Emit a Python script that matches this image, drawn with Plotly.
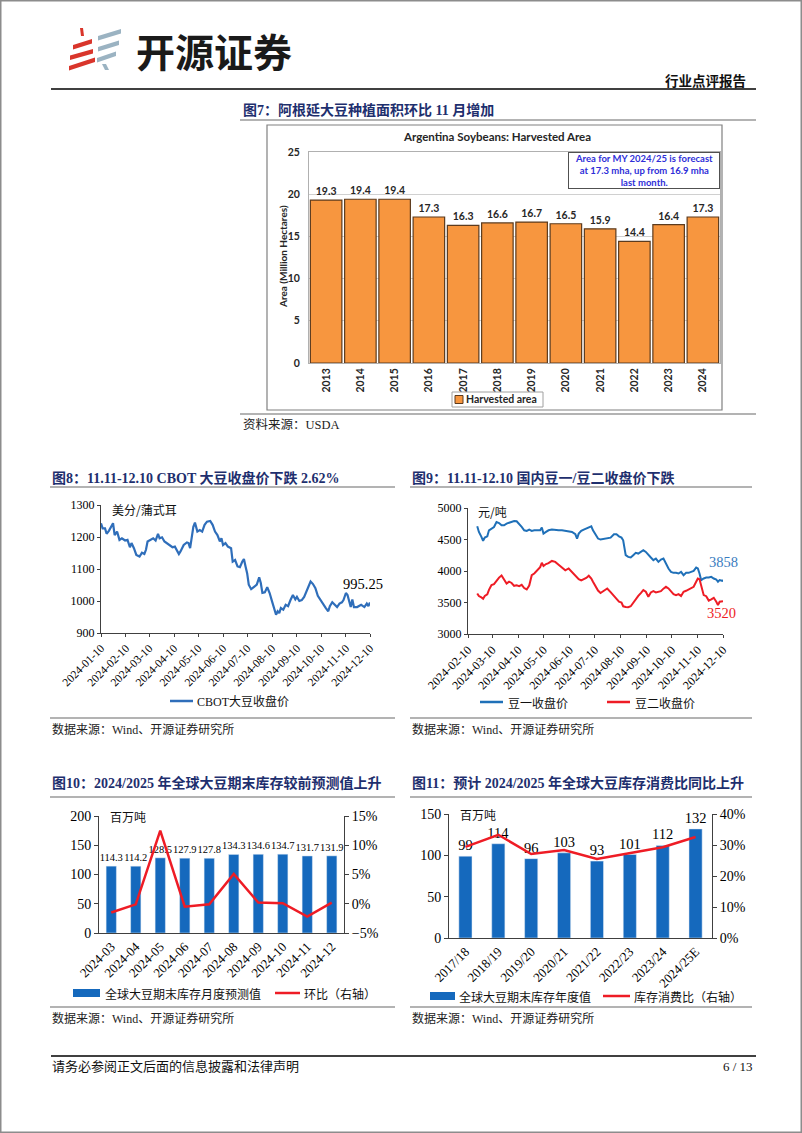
import plotly.graph_objects as go

# ---------------- data ----------------
years7 = ["2013", "2014", "2015", "2016", "2017", "2018", "2019", "2020", "2021", "2022", "2023", "2024"]
area7 = [19.3, 19.4, 19.4, 17.3, 16.3, 16.6, 16.7, 16.5, 15.9, 14.4, 16.4, 17.3]

dates8 = [
    "2024-01-10", "2024-01-12", "2024-01-15", "2024-01-17", "2024-01-20", "2024-01-23", "2024-01-25", "2024-01-27", "2024-01-30", "2024-02-02",
    "2024-02-05", "2024-02-09", "2024-02-12", "2024-02-15", "2024-02-17", "2024-02-20", "2024-02-23", "2024-02-27", "2024-03-01", "2024-03-04",
    "2024-03-06", "2024-03-08", "2024-03-12", "2024-03-15", "2024-03-18", "2024-03-21", "2024-03-23", "2024-03-26", "2024-03-29", "2024-04-01",
    "2024-04-05", "2024-04-08", "2024-04-11", "2024-04-13", "2024-04-16", "2024-04-18", "2024-04-22", "2024-04-26", "2024-04-28", "2024-04-30",
    "2024-05-02", "2024-05-04", "2024-05-06", "2024-05-09", "2024-05-12", "2024-05-15", "2024-05-18", "2024-05-21", "2024-05-25", "2024-05-28",
    "2024-05-31", "2024-06-03", "2024-06-06", "2024-06-08", "2024-06-10", "2024-06-13", "2024-06-16", "2024-06-20", "2024-06-22", "2024-06-25",
    "2024-06-28", "2024-07-01", "2024-07-04", "2024-07-06", "2024-07-08", "2024-07-10", "2024-07-12", "2024-07-15", "2024-07-19", "2024-07-22",
    "2024-07-25", "2024-07-27", "2024-07-29", "2024-08-01", "2024-08-04", "2024-08-07", "2024-08-10", "2024-08-13", "2024-08-15", "2024-08-17",
    "2024-08-19", "2024-08-21", "2024-08-24", "2024-08-27", "2024-08-30", "2024-09-02", "2024-09-05", "2024-09-08", "2024-09-10", "2024-09-13",
    "2024-09-16", "2024-09-19", "2024-09-22", "2024-09-24", "2024-09-27", "2024-09-30", "2024-10-03", "2024-10-06", "2024-10-10", "2024-10-13",
    "2024-10-16", "2024-10-19", "2024-10-21", "2024-10-24", "2024-10-27", "2024-10-30", "2024-11-02", "2024-11-05", "2024-11-07", "2024-11-10",
    "2024-11-12", "2024-11-14", "2024-11-16", "2024-11-18", "2024-11-20", "2024-11-24", "2024-11-27", "2024-11-29", "2024-12-03", "2024-12-06",
    "2024-12-08", "2024-12-10",
]
cbot8 = [
    1243, 1227, 1227, 1210, 1220, 1232, 1243, 1206, 1217, 1191,
    1196, 1189, 1191, 1168, 1181, 1165, 1144, 1139, 1151, 1147,
    1160, 1186, 1193, 1196, 1189, 1210, 1196, 1199, 1186, 1181,
    1175, 1168, 1170, 1160, 1147, 1155, 1175, 1183, 1181, 1165,
    1193, 1232, 1245, 1217, 1222, 1217, 1238, 1248, 1250, 1238,
    1217, 1206, 1186, 1196, 1175, 1181, 1170, 1165, 1123, 1128,
    1108, 1106, 1123, 1131, 1108, 1087, 1051, 1037, 1045, 1051,
    1074, 1056, 1025, 1027, 1043, 1025, 999, 978, 957, 968,
    962, 978, 973, 988, 984, 1003, 1019, 1005, 1013, 1000,
    1003, 1013, 1029, 1045, 1061, 1053, 1040, 1016, 999, 988,
    978, 968, 984, 996, 988, 981, 992, 996, 1003, 1025,
    1019, 1003, 981, 1005, 981, 981, 984, 988, 981, 992,
    984, 995.25,
]
ticks8 = ["2024-01-10", "2024-02-10", "2024-03-10", "2024-04-10", "2024-05-10", "2024-06-10",
          "2024-07-10", "2024-08-10", "2024-09-10", "2024-10-10", "2024-11-10", "2024-12-10"]

dates9 = [
    "2024-02-21", "2024-02-23", "2024-02-26", "2024-02-28", "2024-03-01", "2024-03-04", "2024-03-06", "2024-03-09", "2024-03-12", "2024-03-15",
    "2024-03-18", "2024-03-21", "2024-03-24", "2024-03-27", "2024-03-30", "2024-04-02", "2024-04-05", "2024-04-08", "2024-04-11", "2024-04-14",
    "2024-04-17", "2024-04-20", "2024-04-23", "2024-04-26", "2024-04-29", "2024-05-02", "2024-05-06", "2024-05-08", "2024-05-10", "2024-05-13",
    "2024-05-16", "2024-05-20", "2024-05-24", "2024-05-28", "2024-06-01", "2024-06-05", "2024-06-09", "2024-06-13", "2024-06-17", "2024-06-19",
    "2024-06-21", "2024-06-24", "2024-06-27", "2024-06-30", "2024-07-03", "2024-07-06", "2024-07-08", "2024-07-11", "2024-07-14", "2024-07-17",
    "2024-07-21", "2024-07-25", "2024-07-29", "2024-08-02", "2024-08-05", "2024-08-08", "2024-08-11", "2024-08-13", "2024-08-16", "2024-08-19",
    "2024-08-22", "2024-08-25", "2024-08-28", "2024-08-31", "2024-09-03", "2024-09-06", "2024-09-09", "2024-09-12", "2024-09-15", "2024-09-18",
    "2024-09-21", "2024-09-24", "2024-09-27", "2024-09-30", "2024-10-03", "2024-10-06", "2024-10-09", "2024-10-12", "2024-10-15", "2024-10-18",
    "2024-10-21", "2024-10-24", "2024-10-27", "2024-10-30", "2024-11-02", "2024-11-05", "2024-11-08", "2024-11-10", "2024-11-12", "2024-11-14",
    "2024-11-17", "2024-11-20", "2024-11-23", "2024-11-26", "2024-11-29", "2024-12-02", "2024-12-04", "2024-12-06", "2024-12-09", "2024-12-10",
]
soy1 = [
    4710, 4620, 4541, 4478, 4530, 4551, 4646, 4673, 4699, 4778,
    4762, 4726, 4726, 4752, 4768, 4778, 4794, 4789, 4752, 4699,
    4646, 4636, 4657, 4636, 4646, 4646, 4646, 4689, 4594, 4620,
    4646, 4657, 4646, 4646, 4646, 4636, 4630, 4620, 4583, 4515,
    4594, 4636, 4657, 4673, 4699, 4710, 4646, 4583, 4515, 4499,
    4510, 4525, 4530, 4583, 4583, 4551, 4530, 4488, 4251, 4224,
    4214, 4251, 4288, 4277, 4303, 4330, 4303, 4266, 4214, 4172,
    4198, 4145, 4182, 4198, 4108, 4040, 3987, 3971, 3971, 3960,
    3987, 3934, 3971, 3971, 3987, 4003, 4055, 4040, 3960, 3855,
    3881, 3897, 3897, 3908, 3881, 3865, 3829, 3855, 3844, 3858,
]
soy2 = [
    3644, 3602, 3580, 3560, 3605, 3630, 3700, 3776, 3790, 3850,
    3895, 3930, 3870, 3800, 3830, 3810, 3765, 3772, 3760, 3780,
    3730, 3707, 3770, 3934, 3960, 3997, 4060, 4130, 4080, 4110,
    4125, 4160, 4145, 4100, 4055, 4010, 4040, 3980, 3934, 3900,
    3870, 3850, 3870, 3890, 3925, 3880, 3830, 3750, 3690, 3650,
    3690, 3723, 3665, 3600, 3560, 3512, 3500, 3440, 3430, 3425,
    3440, 3500, 3550, 3605, 3650, 3697, 3670, 3591, 3660, 3680,
    3660, 3670, 3680, 3720, 3749, 3723, 3670, 3633, 3617, 3633,
    3602, 3670, 3686, 3707, 3723, 3749, 3829, 3880, 3870, 3780,
    3617, 3600, 3530, 3550, 3575, 3512, 3459, 3512, 3512, 3520,
]
ticks9 = ["2024-02-10", "2024-03-10", "2024-04-10", "2024-05-10", "2024-06-10", "2024-07-10",
          "2024-08-10", "2024-09-10", "2024-10-10", "2024-11-10", "2024-12-10"]

months10 = ["2024-03", "2024-04", "2024-05", "2024-06", "2024-07", "2024-08", "2024-09", "2024-10", "2024-11", "2024-12"]
stock10 = [114.3, 114.2, 128.5, 127.9, 127.8, 134.3, 134.6, 134.7, 131.7, 131.9]
mom10 = [-1.5, -0.1, 12.5, -0.5, -0.1, 5.1, 0.2, 0.1, -2.2, 0.2]

years11 = ["2017/18", "2018/19", "2019/20", "2020/21", "2021/22", "2022/23", "2023/24", "2024/25E"]
stock11 = [99, 114, 96, 103, 93, 101, 112, 132]
ratio11 = [29.4, 33.3, 27.1, 28.4, 25.5, 27.4, 29.3, 32.6]

# ---------------- helpers ----------------
W, H = 802, 1133


def X(px):
    return px / W


def Y(py):
    return 1 - py / H


SERIF = "Liberation Serif, 'Noto Sans CJK SC', serif"
CJK = "'Noto Sans CJK SC', sans-serif"
SANS = "Lato, 'Open Sans', sans-serif"
NAVY = "#1E2F6E"
BLUE8 = "#2F6EBA"
BLUE9 = "#1F70B8"
RED = "#EE1C25"
BARBLUE = "#1569BD"
AXIS = "#404040"

fig = go.Figure()

# ---------------- traces ----------------
fig.add_trace(go.Bar(
    x=years7, y=area7, xaxis="x", yaxis="y",
    marker=dict(color="#F7963F", line=dict(color="#5c3b1e", width=1.2)),
    text=[f"{v:.1f}" for v in area7], textposition="outside", constraintext="none",
    textfont=dict(family=SANS, size=10.5, color="#262626", weight="bold"),
    cliponaxis=False, name="Harvested area", showlegend=False,
))
fig.add_trace(go.Scatter(
    x=dates8, y=cbot8, xaxis="x2", yaxis="y2", mode="lines",
    line=dict(color=BLUE8, width=2.2), name="CBOT大豆收盘价", showlegend=False,
))
fig.add_trace(go.Scatter(
    x=dates9, y=soy1, xaxis="x3", yaxis="y3", mode="lines",
    line=dict(color=BLUE9, width=2), name="豆一收盘价", showlegend=False,
))
fig.add_trace(go.Scatter(
    x=dates9, y=soy2, xaxis="x3", yaxis="y3", mode="lines",
    line=dict(color=RED, width=2), name="豆二收盘价", showlegend=False,
))
fig.add_trace(go.Bar(
    x=months10, y=stock10, xaxis="x4", yaxis="y4", width=0.42,
    marker=dict(color=BARBLUE), texttemplate="%{y:.1f}", textposition="outside",
    constraintext="none",
    textfont=dict(family=SERIF, size=10.5, color="#000"), cliponaxis=False,
    name="全球大豆期末库存月度预测值", showlegend=False,
))
fig.add_trace(go.Scatter(
    x=months10, y=mom10, xaxis="x4", yaxis="y5", mode="lines",
    line=dict(color=RED, width=2.5), name="环比（右轴）", showlegend=False,
))
fig.add_trace(go.Bar(
    x=years11, y=stock11, xaxis="x5", yaxis="y6", width=0.4,
    marker=dict(color=BARBLUE), texttemplate="%{y}", textposition="outside",
    constraintext="none",
    textfont=dict(family=SERIF, size=14.5, color="#000"), cliponaxis=False,
    name="全球大豆期末库存年度值", showlegend=False,
))
fig.add_trace(go.Scatter(
    x=years11, y=ratio11, xaxis="x5", yaxis="y7", mode="lines",
    line=dict(color=RED, width=2.5), name="库存消费比（右轴）", showlegend=False,
))

# ---------------- axes ----------------
tf7 = dict(family=SANS, size=10.5, color="#262626", weight="bold")
tfs = dict(family=SERIF, size=12, color="#000")

fig.update_layout(
    width=W, height=H, margin=dict(l=0, r=0, t=0, b=0, autoexpand=False),
    paper_bgcolor="white", plot_bgcolor="rgba(0,0,0,0)", showlegend=False,
    bargap=0.08,
    xaxis=dict(domain=[X(309), X(720)], anchor="y", type="category", tickangle=-90,
               tickfont=tf7, showline=True, linecolor="#b0b0b0", mirror=True,
               ticks="", showgrid=False, automargin=False),
    yaxis=dict(domain=[Y(363), Y(152)], anchor="x", range=[0, 25], dtick=5,
               tickfont=tf7, showgrid=True, gridcolor="#d0d0d0", showline=True,
               linecolor="#b0b0b0", mirror=True, ticks="", zeroline=False,
               ticklabelstandoff=6, automargin=False),
    xaxis2=dict(domain=[X(101), X(370)], anchor="y2", type="date",
                range=["2024-01-10", "2024-12-10"], tickvals=ticks8, ticktext=ticks8,
                tickangle=-45, tickfont=dict(family=SERIF, size=11.5, color="#000"),
                ticks="outside", ticklen=3, tickcolor=AXIS, showline=True,
                linecolor=AXIS, showgrid=False, zeroline=False, automargin=False),
    yaxis2=dict(domain=[Y(633), Y(505)], anchor="x2", range=[900, 1300], dtick=100,
                tickfont=tfs, ticks="outside", ticklen=3, tickcolor=AXIS,
                showline=True, linecolor=AXIS, showgrid=False, zeroline=False,
                automargin=False),
    xaxis3=dict(domain=[X(468), X(723)], anchor="y3", type="date",
                range=["2024-02-10", "2024-12-10"], tickvals=ticks9, ticktext=ticks9,
                tickangle=-45, tickfont=dict(family=SERIF, size=12, color="#000"),
                ticks="outside", ticklen=3, tickcolor=AXIS, showline=True,
                linecolor=AXIS, showgrid=False, zeroline=False, automargin=False),
    yaxis3=dict(domain=[Y(634), Y(508)], anchor="x3", range=[3000, 5000], dtick=500,
                tickfont=tfs, ticks="outside", ticklen=3, tickcolor=AXIS,
                showline=True, linecolor=AXIS, showgrid=False, zeroline=False,
                automargin=False),
    xaxis4=dict(domain=[X(99), X(344)], anchor="y4", type="category", tickangle=-45,
                tickfont=dict(family=SERIF, size=13, color="#000"), showline=True,
                linecolor=AXIS, ticks="", showgrid=False, automargin=False),
    yaxis4=dict(domain=[Y(933), Y(816)], anchor="x4", range=[0, 200], dtick=50,
                tickfont=dict(family=SERIF, size=14, color="#000"), ticks="outside",
                ticklen=4, tickcolor=AXIS, showline=True, linecolor=AXIS,
                showgrid=False, zeroline=False, automargin=False),
    yaxis5=dict(overlaying="y4", side="right", anchor="x4", range=[-5, 15], dtick=5,
                ticksuffix="%", tickfont=dict(family=SERIF, size=14, color="#000"),
                ticks="outside", ticklen=4, tickcolor=AXIS, showline=True,
                linecolor=AXIS, showgrid=False, zeroline=False, automargin=False),
    xaxis5=dict(domain=[X(449), X(712)], anchor="y6", type="category", tickangle=-45,
                tickfont=dict(family=SERIF, size=13, color="#000"), showline=True,
                linecolor=AXIS, ticks="", showgrid=False, automargin=False),
    yaxis6=dict(domain=[Y(938), Y(814)], anchor="x5", range=[0, 150], dtick=50,
                tickfont=dict(family=SERIF, size=14, color="#000"), ticks="outside",
                ticklen=4, tickcolor=AXIS, showline=True, linecolor=AXIS,
                showgrid=False, zeroline=False, automargin=False),
    yaxis7=dict(overlaying="y6", side="right", anchor="x5", range=[0, 40], dtick=10,
                ticksuffix="%", tickfont=dict(family=SERIF, size=14, color="#000"),
                ticks="outside", ticklen=4, tickcolor=AXIS, showline=True,
                linecolor=AXIS, showgrid=False, zeroline=False, automargin=False),
)

# ---------------- shapes ----------------
shapes = []


def line(x0, y0, x1, y1, color="#9a9a9a", width=1.5):
    shapes.append(dict(type="line", xref="paper", yref="paper", x0=X(x0), y0=Y(y0),
                       x1=X(x1), y1=Y(y1), line=dict(color=color, width=width)))


def rect(x0, y0, x1, y1, fill="rgba(0,0,0,0)", color="rgba(0,0,0,0)", width=1):
    shapes.append(dict(type="rect", xref="paper", yref="paper", x0=X(x0), y0=Y(y0),
                       x1=X(x1), y1=Y(y1), fillcolor=fill, line=dict(color=color, width=width)))


def poly(pts, color):
    d = "M " + " L ".join(f"{X(a):.5f},{Y(b):.5f}" for a, b in pts) + " Z"
    shapes.append(dict(type="path", xref="paper", yref="paper", path=d,
                       fillcolor=color, line=dict(width=0)))


# page border
rect(0.75, 0.75, 801.25, 1132.25, color="#8c8c8c", width=1.5)

# logo
LRED, LBLU = "#D9352B", "#9BB3C2"
poly([(80, 28), (83, 28), (84, 36), (81, 36)], LRED)
poly([(73, 45), (92, 39), (92, 43.5), (73, 49.5)], LRED)
poly([(70, 55.5), (93, 49), (93, 53.5), (70, 60)], LRED)
poly([(69, 66), (95, 57.5), (95, 62), (69, 70.5)], LRED)
poly([(98, 36), (121, 29), (121, 33.5), (98, 40.5)], LBLU)
poly([(98, 47), (119, 40.5), (119, 45), (98, 51.5)], LBLU)
poly([(97, 58), (116, 51.5), (116, 56), (97, 62.5)], LBLU)
poly([(102, 64), (106, 64), (109, 70), (105, 70)], LBLU)

# header / footer rules
line(51, 89, 756, 89, color="#000", width=1.5)
line(51, 1056, 756, 1056, color="#000", width=1.5)

# figure rules
line(240, 120, 756, 120)
line(240, 414, 756, 414)
line(50, 487, 395, 487)
line(50, 718, 395, 718)
line(410, 487, 752, 487)
line(410, 718, 752, 718)
line(50, 797, 395, 797)
line(50, 1007, 395, 1007)
line(410, 797, 752, 797)
line(410, 1007, 752, 1007)

# fig7 image frame and legend
rect(267, 125, 722, 410, color="#808080", width=1.2)
rect(452, 392, 543, 407, fill="white", color="#a0a0a0", width=1)
rect(455, 395.5, 463, 403.5, fill="#F7963F", color="#5c3b1e", width=1)

# manual legends
line(170, 701, 193, 701, color=BLUE8, width=2.5)
line(480, 702, 503, 702, color=BLUE9, width=2.5)
line(607, 702, 630, 702, color=RED, width=2.5)
rect(73, 989, 100, 997, fill=BARBLUE)
line(275, 993, 300, 993, color=RED, width=2.5)
rect(430, 992, 455, 1000, fill=BARBLUE)
line(603, 996, 630, 996, color=RED, width=2.5)

fig.update_layout(shapes=shapes)


# ---------------- texts ----------------
def txt(s, x, y, size=12, color="#000", family=SERIF, xanchor="left", bold=False, angle=0):
    fig.add_annotation(text=s, x=X(x), y=Y(y), xref="paper", yref="paper",
                       xanchor=xanchor, yanchor="middle", showarrow=False, textangle=angle,
                       borderpad=0,
                       font=dict(family=family, size=size, color=color,
                                 weight="bold" if bold else "normal"))


txt("开源证券", 214, 50, size=39, color="#1a1a1a", family=CJK, xanchor="center", bold=True)
txt("行业点评报告", 747, 81, size=13.5, color="#111", xanchor="right", bold=True)
txt("请务必参阅正文后面的信息披露和法律声明", 51, 1066, size=13, color="#111")
txt("6 / 13", 754, 1066, size=13, color="#111", xanchor="right")

# titles
txt("图7：阿根延大豆种植面积环比 11 月增加", 242, 110, size=14, color=NAVY, bold=True)
txt("图8：11.11-12.10 CBOT 大豆收盘价下跌 2.62%", 51, 478, size=14, color=NAVY, bold=True)
txt("图9：11.11-12.10 国内豆一/豆二收盘价下跌", 411, 478, size=14, color=NAVY, bold=True)
txt("图10：2024/2025 年全球大豆期末库存较前预测值上升", 51, 783, size=14, color=NAVY, bold=True)
txt("图11：预计 2024/2025 年全球大豆库存消费比同比上升", 411, 783, size=14, color=NAVY, bold=True)

# sources
txt("资料来源：USDA", 242, 425, size=12.5, color="#222")
txt("数据来源：Wind、开源证券研究所", 51, 729, size=12, color="#222")
txt("数据来源：Wind、开源证券研究所", 411, 729, size=12, color="#222")
txt("数据来源：Wind、开源证券研究所", 51, 1018, size=12, color="#222")
txt("数据来源：Wind、开源证券研究所", 411, 1018, size=12, color="#222")

# fig7 inner texts
txt("Argentina Soybeans: Harvested Area", 497, 136, size=11.5, color="#262626",
    family=SANS, xanchor="center", bold=True)
txt("Area (Million Hectares)", 283, 257, size=10, color="#262626", family=SANS,
    xanchor="center", bold=True, angle=-90)
txt("Harvested area", 465, 399.5, size=10.5, color="#262626", family=SANS, bold=True)
fig.add_annotation(
    text="Area for MY 2024/25 is forecast<br>at 17.3 mha, up from 16.9 mha<br>last month.",
    x=X(644), y=Y(170.5), xref="paper", yref="paper", xanchor="center", yanchor="middle",
    showarrow=False, width=148, height=33, bgcolor="white", bordercolor="#505050",
    borderwidth=1, borderpad=1, align="center",
    font=dict(family=SANS, size=9.5, color="#2E2ED8", weight="bold"))

# unit labels
txt("美分/蒲式耳", 111, 509, size=12, color="#111", family=CJK)
txt("元/吨", 477, 511, size=12, color="#111", family=CJK)
txt("百万吨", 109, 816, size=12, color="#111", family=CJK)
txt("百万吨", 459, 814, size=12, color="#111", family=CJK)

# end-value labels
fig.add_annotation(text="995.25", x=dates8[-1], y=cbot8[-1], xref="x2", yref="y2",
                   showarrow=False, xanchor="center", yanchor="middle", xshift=-7, yshift=19,
                   font=dict(family=SERIF, size=14.5, color="#000"))
fig.add_annotation(text=str(soy1[-1]), x=dates9[-1], y=soy1[-1], xref="x3", yref="y3",
                   showarrow=False, xanchor="center", yanchor="middle", xshift=0, yshift=18,
                   font=dict(family=SERIF, size=14.5, color="#3A7CC0"))
fig.add_annotation(text=str(soy2[-1]), x=dates9[-1], y=soy2[-1], xref="x3", yref="y3",
                   showarrow=False, xanchor="center", yanchor="middle", xshift=-2, yshift=-12,
                   font=dict(family=SERIF, size=14.5, color=RED))

# legend texts
txt("CBOT大豆收盘价", 196, 701, size=12, color="#111")
txt("豆一收盘价", 507, 702, size=12, color="#111", family=CJK)
txt("豆二收盘价", 634, 702, size=12, color="#111", family=CJK)
txt("全球大豆期末库存月度预测值", 104, 993, size=12, color="#111", family=CJK)
txt("环比（右轴）", 303, 993, size=12, color="#111", family=CJK)
txt("全球大豆期末库存年度值", 458, 996, size=12, color="#111", family=CJK)
txt("库存消费比（右轴）", 633, 996, size=12, color="#111", family=CJK)

fig.write_html(
    "out.html",
    config={"displayModeBar": False},
    post_script="document.body.style.margin='0';document.body.style.overflow='hidden';",
)
